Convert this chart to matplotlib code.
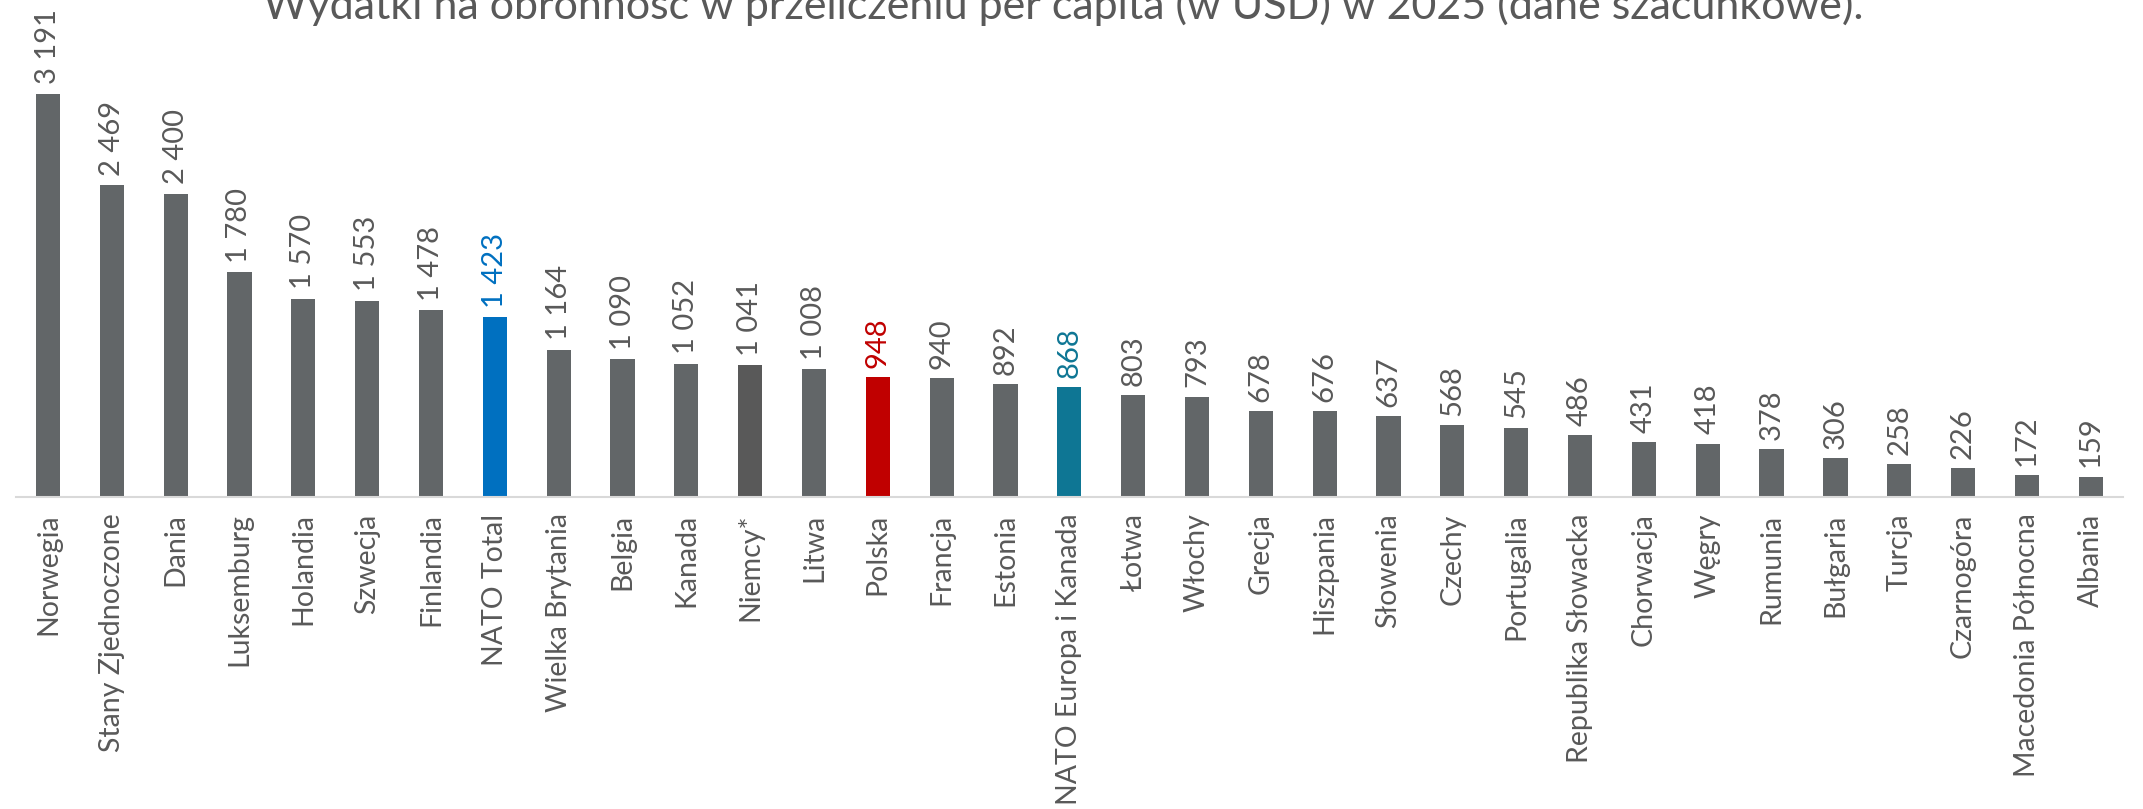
import matplotlib.pyplot as plt
import numpy as np

plt.rcParams['font.family'] = ['Lato', 'DejaVu Sans']

kraje = ['Norwegia', 'Stany Zjednoczone', 'Dania', 'Luksemburg', 'Holandia', 'Szwecja',
         'Finlandia', 'NATO Total', 'Wielka Brytania', 'Belgia', 'Kanada', 'Niemcy*',
         'Litwa', 'Polska', 'Francja', 'Estonia', 'NATO Europa i Kanada', 'Łotwa',
         'Włochy', 'Grecja', 'Hiszpania', 'Słowenia', 'Czechy', 'Portugalia',
         'Republika Słowacka', 'Chorwacja', 'Węgry', 'Rumunia', 'Bułgaria', 'Turcja',
         'Czarnogóra', 'Macedonia Północna', 'Albania']
wydatki = [3191, 2469, 2400, 1780, 1570, 1553, 1478, 1423, 1164, 1090, 1052, 1041,
           1008, 948, 940, 892, 868, 803, 793, 678, 676, 637, 568, 545,
           486, 431, 418, 378, 306, 258, 226, 172, 159]

szary = '#626668'
kolory_slupkow = {'NATO Total': '#0070C0', 'Polska': '#C00000',
                  'NATO Europa i Kanada': '#0E7694', 'Niemcy*': '#595959'}
kolory_etykiet = {'NATO Total': '#0070C0', 'Polska': '#C00000',
                  'NATO Europa i Kanada': '#0E7694'}

fig = plt.figure(figsize=(21.43, 8.09), dpi=100)
ax = fig.add_axes([0.0075, 0.386, 0.983, 0.614])

x = np.arange(len(kraje))
kolory = [kolory_slupkow.get(k, szary) for k in kraje]
ax.bar(x, wydatki, width=0.38, color=kolory)

for i, (k, v) in enumerate(zip(kraje, wydatki)):
    txt = f"{v:,}".replace(",", " ")
    ax.text(i, v + 75, txt, rotation=90, ha='center', va='bottom',
            fontsize=21, color=kolory_etykiet.get(k, '#595959'))

ax.set_xlim(-0.5, len(kraje) - 0.5)
ax.set_ylim(0, 3935)
ax.set_xticks(x)
ax.set_xticklabels(kraje, rotation=90, fontsize=20.5, color='#595959')
ax.tick_params(axis='x', length=0, pad=12)
ax.set_yticks([])
for s in ['top', 'right', 'left']:
    ax.spines[s].set_visible(False)
ax.spines['bottom'].set_color('#D9D9D9')
ax.spines['bottom'].set_linewidth(1.5)

# tytuł częściowo ucięty u góry, tak jak w oryginale
fig.text(0.496, 0.968, 'Wydatki na obronność w przeliczeniu per capita (w USD) w 2025 (dane szacunkowe).',
         ha='center', va='bottom', fontsize=31, color='#595959')

fig.savefig('out.png', dpi=100)
